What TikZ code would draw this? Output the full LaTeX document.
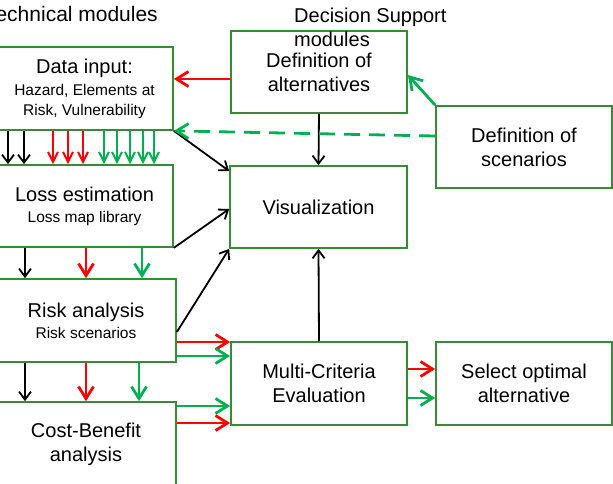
\documentclass[tikz,border=0pt]{standalone}
\usepackage{fontspec}
\setmainfont{Liberation Sans}
\usetikzlibrary{positioning}
\usetikzlibrary{arrows.meta}

\definecolor{boxgreen}{RGB}{56,138,52}
\definecolor{arrgreen}{RGB}{0,176,80}
\definecolor{arrred}{RGB}{255,0,0}

\newcommand{\bigf}{\fontsize{20}{24}\selectfont}
\newcommand{\smallf}{\fontsize{15.5}{18}\selectfont}

\tikzset{
	module/.style={draw=boxgreen, line width=1.7pt, fill=white, align=center, font=\bigf, inner sep=0pt},
	blackarr/.style={black, line width=1.8pt, -{Straight Barb[length=8pt,width=12pt]}},
	redarr/.style={arrred, line width=2.8pt, -{Straight Barb[length=12pt,width=15pt]}},
	greenarr/.style={arrgreen, line width=2.8pt, -{Straight Barb[length=12pt,width=15pt]}},
	dense/.style={line width=2pt, -{Straight Barb[length=10pt,width=10pt]}},
}

\begin{document}
\begin{tikzpicture}[x=1pt, y=-1pt]
		\useasboundingbox (0,0) rectangle (613,484);

		% Technical modules
		\node[module, minimum width=177pt, minimum height=83pt] (data) at (84.5,88.5)
			{Data input:\\[-2pt]{\smallf Hazard, Elements at}\\[-4pt]{\smallf Risk, Vulnerability}};
		\node[module, minimum width=177pt, minimum height=82pt] (loss) at (84.5,206)
			{Loss estimation\\[-3pt]{\smallf Loss map library}};
		\node[module, minimum width=180pt, minimum height=83pt] (risk) at (86,320.5)
			{Risk analysis\\[-3pt]{\smallf Risk scenarios}};
		\node[module, minimum width=180pt, minimum height=84pt] (cb) at (86,444)
			{Cost-Benefit\\analysis};

		% Decision support modules
		\node[module, minimum width=176pt, minimum height=82pt] (defalt) at (319,72)
			{Definition of\\alternatives};
		\node[module, minimum width=177pt, minimum height=82pt] (vis) at (318.5,207)
			{Visualization};
		\node[module, minimum width=176pt, minimum height=82pt] (defscen) at (524,147)
			{Definition of\\scenarios};
		\node[module, minimum width=176pt, minimum height=83pt] (mce) at (319,383.5)
			{Multi-Criteria\\Evaluation};
		\node[module, minimum width=176pt, minimum height=83pt] (select) at (524,383.5)
			{Select optimal\\alternative};

		% Titles
		\node[font=\fontsize{21}{24}\selectfont, anchor=base east, inner sep=0pt] (techtitle) at (158,22) {Technical modules};
		\node[font=\bigf, align=left, anchor=north west, inner sep=0pt] (dsstitle) at (294,8) {Decision Support\\modules};

		% Flows between technical modules
		\foreach \x in {8,24}
			\draw[blackarr] (data.south -| \x,0) -- (loss.north -| \x,0);
		\foreach \x in {53,68,83}
			\draw[redarr, dense] (data.south -| \x,0) -- (loss.north -| \x,0);
		\foreach \x in {104,117,130,143,154}
			\draw[greenarr, dense] (data.south -| \x,0) -- (loss.north -| \x,0);

		\draw[blackarr] (loss.south -| 25,0) -- (risk.north -| 25,0);
		\draw[redarr] (loss.south -| 86,0) -- (risk.north -| 86,0);
		\draw[greenarr] (loss.south -| 142,0) -- (risk.north -| 142,0);

		\draw[blackarr] (risk.south -| 25,0) -- (cb.north -| 25,0);
		\draw[redarr] (risk.south -| 86,0) -- (cb.north -| 86,0);
		\draw[greenarr] (risk.south -| 139,0) -- (cb.north -| 139,0);

		% Into multi-criteria evaluation
		\draw[redarr] (risk.east |- 0,342) -- (mce.west |- 0,342);
		\draw[greenarr] (risk.east |- 0,356) -- (mce.west |- 0,356);
		\draw[greenarr] (cb.east |- 0,406) -- (mce.west |- 0,406);
		\draw[redarr] (cb.east |- 0,423) -- (mce.west |- 0,423);

		\draw[redarr] (mce.east |- 0,369) -- (select.west |- 0,369);
		\draw[greenarr] (mce.east |- 0,398) -- (select.west |- 0,398);

		% Visualization
		\draw[blackarr] (data.south east) -- (vis.west |- 0,171);
		\draw[blackarr] (loss.south east) -- (vis.west |- 0,209);
		\draw[blackarr] (risk.east |- 0,332) -- (vis.south west);
		\draw[blackarr] (mce.north) -- (vis.south);
		\draw[blackarr] (defalt.south) -- (vis.north);

		% Alternatives and scenarios
		\draw[redarr] (defalt.west |- 0,79) -- (data.east |- 0,79);
		\draw[greenarr] (defscen.north west) -- (defalt.east |- 0,75);
		\draw[greenarr, dash pattern=on 16pt off 9pt] (defscen.west |- 0,136) -- (data.south east);
	\end{tikzpicture}
\end{document}
